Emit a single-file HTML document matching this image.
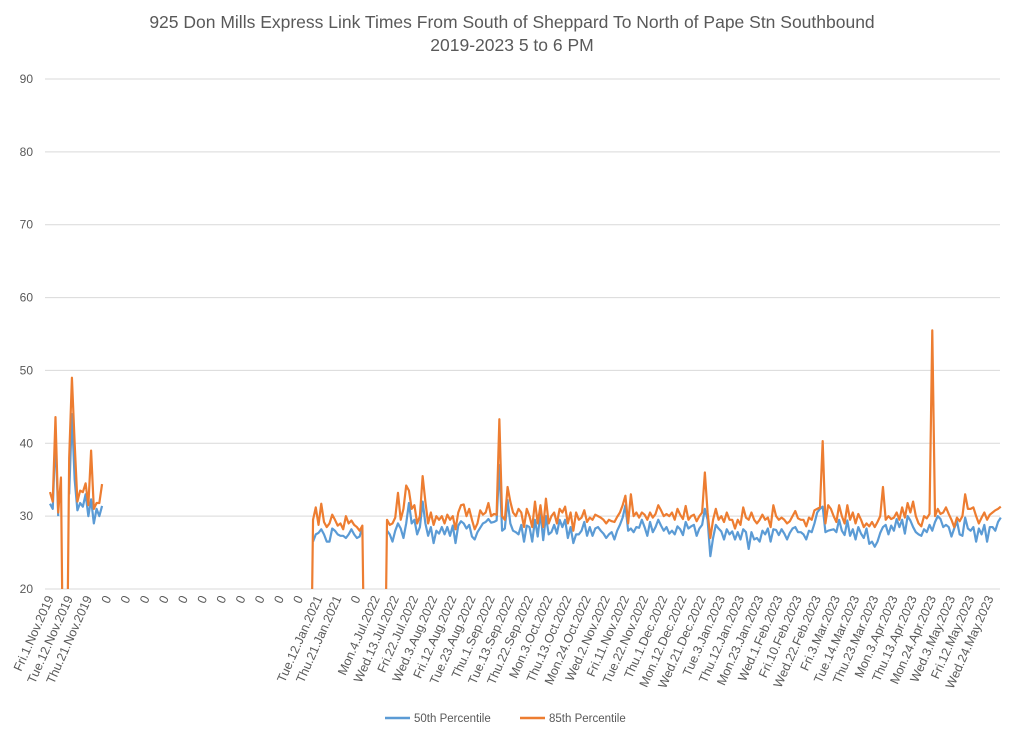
<!DOCTYPE html>
<html><head><meta charset="utf-8"><style>
body{margin:0;background:#fff;}
svg{display:block;font-family:"Liberation Sans",sans-serif;}
</style></head><body>
<svg id="chart" width="1024" height="738" viewBox="0 0 1024 738">
<text x="512" y="28" text-anchor="middle" font-size="17.5" fill="#595959">925 Don Mills Express Link Times From South of Sheppard To North of Pape Stn Southbound</text>
<text x="512" y="51" text-anchor="middle" font-size="17.5" fill="#595959">2019-2023 5 to 6 PM</text>
<defs><clipPath id="plotclip"><rect x="40" y="70" width="970" height="519"/></clipPath></defs>
<g id="grid"></g><g id="ylabels"></g><g id="xlabels"></g>
<g id="lines" clip-path="url(#plotclip)"></g>
<g>
<line x1="385" y1="718" x2="410" y2="718" stroke="#5b9bd5" stroke-width="2.5"/>
<text x="414" y="722" font-size="11.5" fill="#595959">50th Percentile</text>
<line x1="520" y1="718" x2="545" y2="718" stroke="#ed7d31" stroke-width="2.5"/>
<text x="549" y="722" font-size="11.5" fill="#595959">85th Percentile</text>
</g>
</svg>
<script>
const yTicks=[20,30,40,50,60,70,80,90];
const xLabels=["Fri.1.Nov.2019","Tue.12.Nov.2019","Thu.21.Nov.2019","0","0","0","0","0","0","0","0","0","0","0","Tue.12.Jan.2021","Thu.21.Jan.2021","0","Mon.4.Jul.2022","Wed.13.Jul.2022","Fri.22.Jul.2022","Wed.3.Aug.2022","Fri.12.Aug.2022","Tue.23.Aug.2022","Thu.1.Sep.2022","Tue.13.Sep.2022","Thu.22.Sep.2022","Mon.3.Oct.2022","Thu.13.Oct.2022","Mon.24.Oct.2022","Wed.2.Nov.2022","Fri.11.Nov.2022","Tue.22.Nov.2022","Thu.1.Dec.2022","Mon.12.Dec.2022","Wed.21.Dec.2022","Tue.3.Jan.2023","Thu.12.Jan.2023","Mon.23.Jan.2023","Wed.1.Feb.2023","Fri.10.Feb.2023","Wed.22.Feb.2023","Fri.3.Mar.2023","Tue.14.Mar.2023","Thu.23.Mar.2023","Mon.3.Apr.2023","Thu.13.Apr.2023","Mon.24.Apr.2023","Wed.3.May.2023","Fri.12.May.2023","Wed.24.May.2023"];
const p85_2019=[33.3,32,43.6,30.5,35.3,0,0,38,49,40,32,33.5,33.3,34.5,31.5,39,31,31.8,31.8,34.4];
const p50_2019=[31.7,31,41,30,null,null,null,33,44,35,30.8,31.8,31.3,33,30,32.3,29,31,30,31.4];
const p85_2021=[0,29.5,31.2,28.8,31.7,29.2,28.5,29,30.2,29.5,28.7,29,28.2,30,29,29.4,28.8,28.5,28,28.7,0];
const p50_2021=[null,26.5,27.5,27.7,28.2,27.5,26.5,26.5,28.3,28,27.5,27.3,27.3,27,27.5,28.2,27.5,27,27.2,28.5,null];
const p85_2022=[0,29.5,28.8,29,29.8,33.2,29.5,31,34.2,33.5,31,
31.5,29,30,35.5,32,29,30.5,28.8,30,29.5,
30,29,30.2,29.5,30,28.2,30.5,31.5,31.6,30,
31,29.5,28.2,29,30.8,30.2,30.5,31.8,30,30.3,
30.2,43.3,30,29.5,34,32,30.5,30,31,30.5,
28.5,31,30,28.5,32,29,31.5,28.5,32.4,29,
30,30.5,29,31,30.5,31.3,29,30.5,28,30.5,
29.5,29.8,30.8,29.2,29.8,29.5,30.2,30,29.8,29.5,
29,29.5,29.3,29.2,29.9,30.5,31.5,32.8,29,33,
30,30.5,29.8,30.5,30.2,29.5,30.5,29.8,30.3,31.5,
30.8,30,30.3,30,30.5,29.5,31,30.2,29.6,31.4,
29.5,30,30.2,29.3,30,30.5,36,30.5,27,29.5,
31,29.5,30,29.2,30.5,29.5,29.5,28.3,29.5,28.8,
31.2,29.8,29.5,30.5,29.5,29,29.5,30.2,29.5,29.8,
28.5,31.5,30,29.5,29.8,29.5,29,29.3,30,30.7,
29.7,29.5,29.5,28.6,29.8,29.5,30.8,31,31.2,40.3,
29,31.5,31,30,29.2,31.5,30,29,31.5,29.5,
30.5,29,30.3,29.5,28.5,29,28.6,29.2,28.5,29.2,
30,34,29.5,30,29.6,29.8,30.5,29.5,31.2,29.8,
31.8,30.5,32,30,29,28.6,30,29.7,30.3,55.5,
30,31,30.3,30.5,31.2,30.3,29.5,28.5,29.8,29.3,
30,33,31,31,31.2,30,29,29.8,30.5,29.5,
30.2,30.5,30.8,31,31.3];
const p50_2022=[null,28,27.5,26.5,28,29,28.3,27,29,31.8,29,
29.5,27.5,28.5,32,29,27.3,28.5,26.3,28,27.6,
28.5,27.5,28.5,27.3,28.7,26.3,28.7,29.3,29,28.3,
28.8,27.2,26.8,27.8,28.4,29,29.2,29.6,29.1,29.2,
29.4,37,28,28.3,32.2,29,28,27.8,27.5,28.8,
26.5,28.7,28.5,26.5,29.5,27.2,30.5,26.7,30,27.5,
27.8,28.8,27.6,29.5,28.5,29.5,27,28.5,26.3,27.5,
27.5,28,29.2,27.3,28.5,27.3,28.3,28.5,28,27.6,
27,27.5,27.8,26.8,28,28.8,29.8,31.5,28,28.3,
27.8,28.5,28.4,29.5,28.5,27.3,29.2,27.8,28.5,29.5,
28.7,28,28.5,27.6,28,27.5,28.6,28.2,27.4,29.2,
28.3,28.6,28.8,27.3,28.3,28.8,31,29.5,24.5,27,
28.8,28.3,27.9,26.8,28.2,27.5,27.9,26.8,27.8,26.8,
28.2,27.8,25.5,27.8,26.8,27,26.5,28,27.5,28.3,
26.5,28.2,28.1,27.4,28.2,27.6,26.8,27.7,28.3,28.5,
27.8,27.8,27.5,26.8,28,27.8,29,30.5,31,31.3,
27.8,28,28.1,28.2,27.8,29.5,28,27.4,29.4,27.3,
28.2,26.8,28.5,27.6,27,28.3,26.2,26.5,25.8,26.5,
27.7,28.5,28.8,27.5,28.7,28,29.6,28.5,29.5,27.6,
30,29.4,28.5,27.8,27.5,27.3,28.2,27.8,28.8,28,
29.2,30,29.6,28.5,28.8,28.5,27.2,28.3,29.3,27.5,
27.3,29.8,28.3,28,28.5,26.5,28.3,27.5,28.8,26.5,
28.5,28.5,28,29.2,29.8];
function nulls(n){return new Array(n).fill(null);}
const p85=[].concat(p85_2019,nulls(75),p85_2021,nulls(6),p85_2022);
const p50=[].concat(p50_2019,nulls(75),p50_2021,nulls(6),p50_2022);

const NS="http://www.w3.org/2000/svg";
const X0=50,STEP=2.74,PL=45,PR=1000;
function xs(i){return X0+i*STEP;}
function ys(v){return 589-(v-20)*(510/70);}
const grid=document.getElementById('grid'),yl=document.getElementById('ylabels'),xl=document.getElementById('xlabels'),lines=document.getElementById('lines');
yTicks.forEach(t=>{
  const l=document.createElementNS(NS,'line');
  
  
  l.setAttribute('x1',PL);l.setAttribute('x2',PR);l.setAttribute('y1',ys(t));l.setAttribute('y2',ys(t));
  l.setAttribute('stroke','#d9d9d9');l.setAttribute('stroke-width','1');
  grid.appendChild(l);
  const tx=document.createElementNS(NS,'text');
  
  
  tx.setAttribute('x',33);tx.setAttribute('y',ys(t)+4);tx.setAttribute('text-anchor','end');
  tx.setAttribute('font-size','12');tx.setAttribute('fill','#595959');tx.textContent=t;
  yl.appendChild(tx);
});
xLabels.forEach((s,k)=>{
  const x=xs(k*7)+4,y=598;
  const tx=document.createElementNS(NS,'text');
  
  
  tx.setAttribute('x',x);tx.setAttribute('y',y);tx.setAttribute('text-anchor','end');
  tx.setAttribute('font-size','12.5');tx.setAttribute('fill','#595959');
  tx.setAttribute('transform','rotate(-66 '+x+' '+y+')');
  tx.textContent=s;xl.appendChild(tx);
});
function drawSeries(vals,color,name){
  let d='',pen=false;
  vals.forEach((v,i)=>{
    if(v===null){pen=false;return;}
    d+=(pen?'L':'M')+xs(i).toFixed(2)+' '+ys(v).toFixed(2)+' ';pen=true;
  });
  const p=document.createElementNS(NS,'path');
  
  
  p.setAttribute('d',d);p.setAttribute('fill','none');p.setAttribute('stroke',color);
  p.setAttribute('stroke-width','2.2');p.setAttribute('stroke-linejoin','round');
  lines.appendChild(p);
}
drawSeries(p50,'#5b9bd5','series-50th-percentile');
drawSeries(p85,'#ed7d31','series-85th-percentile');
</script>
</body></html>
